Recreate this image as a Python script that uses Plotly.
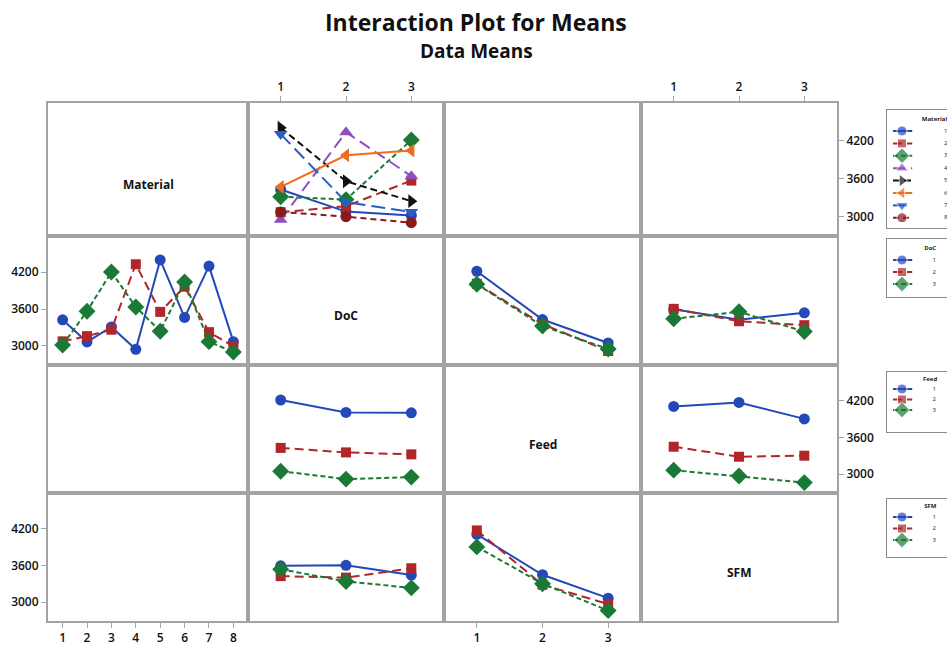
import plotly.graph_objects as go

# ---- data: cell means of the response for each pair of factors ----
factors = ["Material", "DoC", "Feed", "SFM"]
material_levels = [1, 2, 3, 4, 5, 6, 7, 8]
doc_levels = [1, 2, 3]
feed_levels = [1, 2, 3]
sfm_levels = [1, 2, 3]

# rows: Material 1..8, columns: DoC 1..3
mat_doc = [
    [3425, 3075, 3015],
    [3065, 3160, 3565],
    [3310, 3265, 4205],
    [2945, 4330, 3635],
    [4400, 3555, 3240],
    [3465, 3965, 4040],
    [4300, 3225, 3070],
    [3070, 2995, 2900],
]
# rows: DoC 1..3, columns: Feed 1..3
doc_feed = [
    [4216, 3430, 3048],
    [4012, 3356, 2918],
    [4005, 3324, 2951],
]
# rows: DoC 1..3, columns: SFM 1..3
doc_sfm = [
    [3596, 3426, 3540],
    [3604, 3402, 3338],
    [3443, 3556, 3234],
]
# rows: Feed 1..3, columns: SFM 1..3
feed_sfm = [
    [4110, 4176, 3906],
    [3449, 3285, 3302],
    [3065, 2968, 2861],
]

y_ticks = [3000, 3600, 4200]

levels = {"Material": material_levels, "DoC": doc_levels,
          "Feed": feed_levels, "SFM": sfm_levels}
tables = {("Material", "DoC"): mat_doc, ("DoC", "Feed"): doc_feed,
          ("DoC", "SFM"): doc_sfm, ("Feed", "SFM"): feed_sfm}


def cell(a, i, b, j):
    if (a, b) in tables:
        return tables[(a, b)][i][j]
    return tables[(b, a)][j][i]


# ---- styling ----
series_styles = [
    dict(color="#2548B8", symbol="circle", dash="solid", size=11),
    dict(color="#B0262A", symbol="square", dash="9px,5px", size=10),
    dict(color="#1A7A35", symbol="diamond", dash="5px,3px", size=13),
    dict(color="#8E4FC2", symbol="triangle-up", dash="12px,6px", size=12),
    dict(color="#111111", symbol="triangle-right", dash="7px,4px", size=12),
    dict(color="#F26B1D", symbol="triangle-left", dash="solid", size=12),
    dict(color="#2A5CC8", symbol="triangle-down", dash="14px,6px", size=12),
    dict(color="#8B1A1A", symbol="circle", dash="6px,4px", size=11),
]

W, H = 947, 645
row_edges = [103, 236, 365, 493, 621]
col_edges = [48, 248, 444, 641, 837]
y_range = [2690, 4790]
frame_color = "#a3a3a3"
tick_font = dict(family="Open Sans", size=12, color="#111111", weight=600)


def px_x(p):
    return p / W


def px_y(p):
    return 1 - p / H


fig = go.Figure()
layout = {}

# panel axes: k = r*4 + c + 1
for r in range(4):
    for c in range(4):
        k = r * 4 + c + 1
        xa = dict(domain=[px_x(col_edges[c]), px_x(col_edges[c + 1])],
                  anchor=f"y{k}", showline=True, mirror=True,
                  linecolor=frame_color, linewidth=2, showgrid=False,
                  zeroline=False, ticks="", showticklabels=False)
        ya = dict(domain=[px_y(row_edges[r + 1]), px_y(row_edges[r])],
                  anchor=f"x{k}", showline=True, mirror=True,
                  linecolor=frame_color, linewidth=2, showgrid=False,
                  zeroline=False, ticks="", showticklabels=False,
                  range=y_range, tickvals=y_ticks)
        lv = levels[factors[c]]
        xa["range"] = [0.4, 8.6] if c == 0 else [0.5, 3.5]
        xa["tickvals"] = lv
        if (r == 0 and c in (1, 3)) or (r == 3 and c in (0, 2)):
            xa.update(side="top" if r == 0 else "bottom", ticks="outside",
                      ticklen=5, tickcolor=frame_color, tickwidth=1,
                      showticklabels=True, tickfont=tick_font)
        if (c == 0 and r in (1, 3)) or (c == 3 and r in (0, 2)):
            ya.update(side="left" if c == 0 else "right", ticks="outside",
                      ticklen=5, tickcolor=frame_color, tickwidth=1,
                      showticklabels=True, tickfont=tick_font)
        layout[f"xaxis{k}"] = xa
        layout[f"yaxis{k}"] = ya
        # an empty trace so that every panel frame is rendered
        fig.add_trace(go.Scatter(x=[None], y=[None], xaxis=f"x{k}",
                                 yaxis=f"y{k}", mode="markers",
                                 showlegend=False, hoverinfo="skip"))

# interaction panels: series factor = row factor, x factor = column factor
panels = [(0, 1), (1, 0), (1, 2), (1, 3), (2, 1), (2, 3), (3, 1), (3, 2)]
for r, c in panels:
    k = r * 4 + c + 1
    sf, xf = factors[r], factors[c]
    xs = levels[xf]
    for i, lev in enumerate(levels[sf]):
        st = series_styles[i]
        ys = [cell(sf, i, xf, j) for j in range(len(xs))]
        fig.add_trace(go.Scatter(
            x=xs, y=ys, mode="lines+markers", xaxis=f"x{k}", yaxis=f"y{k}",
            line=dict(color=st["color"], width=2, dash=st["dash"]),
            marker=dict(symbol=st["symbol"], size=st["size"], color=st["color"]),
            name=f"{sf} {lev}", showlegend=False, cliponaxis=False))

# key boxes on the right, one per factor
key_boxes = [
    # factor, top px, bottom px, first item px, spacing px, title x, label x
    ("Material", 110, 228, 131, 12.4, 0.58, 0.95),
    ("DoC", 239, 297, 260, 12.0, 0.62, 0.76),
    ("Feed", 372, 432, 389, 10.5, 0.60, 0.76),
    ("SFM", 499, 557, 517, 11.5, 0.62, 0.76),
]
for n, (fac, top, bot, first, step, tx, lx) in enumerate(key_boxes):
    k = 17 + n
    y_lo = (top - first) / step
    y_hi = (bot - first) / step
    layout[f"xaxis{k}"] = dict(domain=[px_x(887), 1.0], anchor=f"y{k}",
                               range=[0, 1], showline=True, mirror=True,
                               linecolor="#8a8a8a", linewidth=1.2,
                               showgrid=False, zeroline=False,
                               showticklabels=False, ticks="")
    layout[f"yaxis{k}"] = dict(domain=[px_y(bot), px_y(top)], anchor=f"x{k}",
                               range=[y_hi, y_lo], showline=True, mirror=False,
                               linecolor="#8a8a8a", linewidth=1.2,
                               showgrid=False, zeroline=False,
                               showticklabels=False, ticks="")
    lv = levels[fac]
    for i, lev in enumerate(lv):
        st = series_styles[i]
        fig.add_trace(go.Scatter(
            x=[0.10, 0.25, 0.42], y=[i, i, i], mode="lines+markers",
            xaxis=f"x{k}", yaxis=f"y{k}",
            line=dict(color=st["color"], width=2, dash=st["dash"]),
            marker=dict(symbol=st["symbol"], size=[0, st["size"] - 1, 0],
                        color=st["color"]),
            showlegend=False, cliponaxis=False, hoverinfo="skip"))
    fig.add_trace(go.Scatter(
        x=[lx] * len(lv), y=list(range(len(lv))), mode="text",
        text=[str(v) for v in lv], textposition="middle right",
        textfont=dict(family="Open Sans", size=6, color="#222"),
        xaxis=f"x{k}", yaxis=f"y{k}", showlegend=False, cliponaxis=False,
        hoverinfo="skip"))
    fig.add_trace(go.Scatter(
        x=[tx], y=[-0.95], mode="text", text=[f"<b>{fac}</b>"],
        textposition="middle right",
        textfont=dict(family="Open Sans", size=6, color="#222"),
        xaxis=f"x{k}", yaxis=f"y{k}", showlegend=False, cliponaxis=False,
        hoverinfo="skip"))

annotations = [
    dict(text="<b>Interaction Plot for Means</b>", x=px_x(476), y=px_y(22),
         xref="paper", yref="paper", xanchor="center", yanchor="middle",
         showarrow=False, font=dict(family="Open Sans", size=23, color="#111")),
    dict(text="<b>Data Means</b>", x=px_x(476), y=px_y(51),
         xref="paper", yref="paper", xanchor="center", yanchor="middle",
         showarrow=False, font=dict(family="Open Sans", size=19, color="#111")),
]
for d, name in enumerate(factors):
    cx = (col_edges[d] + col_edges[d + 1]) / 2
    cy = (row_edges[d] + row_edges[d + 1]) / 2 + 15
    annotations.append(dict(text=f"<b>{name}</b>", x=px_x(cx), y=px_y(cy),
                            xref="paper", yref="paper", xanchor="center",
                            yanchor="middle", showarrow=False,
                            font=dict(family="Open Sans", size=12, color="#111")))

fig.update_layout(
    width=W, height=H,
    margin=dict(l=0, r=0, t=0, b=0, autoexpand=False),
    paper_bgcolor="white", plot_bgcolor="white",
    showlegend=False, annotations=annotations,
    font=dict(family="Open Sans"),
    **layout,
)

fig.write_html("out.html")
